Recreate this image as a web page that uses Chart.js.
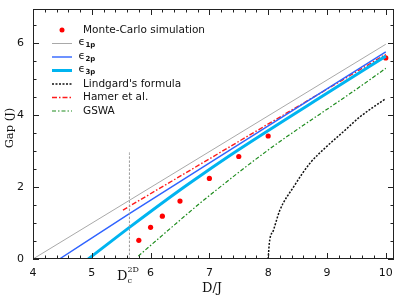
<!DOCTYPE html>
<html><head><meta charset="utf-8">
<script src="https://cdn.jsdelivr.net/npm/chart.js@4/dist/chart.umd.min.js"></script>
<style>html,body{margin:0;padding:0;background:#fff;}canvas{display:block;}</style>
</head><body>
<canvas id="c" width="401" height="299"></canvas>
<script>
// ---- data ----
const xTicks = [4, 5, 6, 7, 8, 9, 10];
const yTicks = [0, 2, 4, 6];

const mcD   = [5.8, 6.0, 6.2, 6.5, 7.0, 7.5, 8.0, 10.0];
const mcGap = [0.52, 0.88, 1.19, 1.61, 2.24, 2.85, 3.42, 5.59];

const e1D   = [4.0, 10.0];
const e1Gap = [0.0, 5.97];

const e2D   = [4.45, 5.64, 7.32, 10.0];
const e2Gap = [0.0, 1.26, 3.0, 5.76];

const e3D   = [4.94, 5.64, 6.5, 6.84, 7.49, 9.08, 10.0];
const e3Gap = [0.0, 0.88, 1.92, 2.31, 3.03, 4.69, 5.64];

const linD   = [8.0, 8.02, 8.09, 8.2, 8.43, 8.71, 8.99, 9.28, 9.56, 10.0];
const linGap = [0.0, 0.45, 0.8, 1.36, 2.0, 2.66, 3.12, 3.54, 3.95, 4.46];

const hamD   = [5.53, 10.0];
const hamGap = [1.36, 5.69];

const gswD   = [5.79, 6.5, 6.84, 8.0, 9.5, 10.0];
const gswGap = [0.08, 1.08, 1.55, 3.03, 4.72, 5.30];

const dcD   = [5.64, 5.64];
const dcGap = [0.0, 3.0];

const legendLabels = ['Monte-Carlo simulation', ['\u03f5', '1p'], ['\u03f5', '2p'], ['\u03f5', '3p'],
  "Lindgard's formula", 'Hamer et al.', 'GSWA'];

const pts = (xs, ys) => xs.map((x, i) => ({x, y: ys[i]}));

const styles = {
  e1:  {color: '#a9a9a9', width: 1,   dash: []},
  e2:  {color: '#2f63ff', width: 1.4, dash: []},
  e3:  {color: '#00b4f0', width: 3,   dash: []},
  lin: {color: '#111111', width: 1.5, dash: [2, 1.5]},
  ham: {color: '#ff1a1a', width: 1.4, dash: [5, 2, 1.5, 2]},
  gsw: {color: '#1e8c1e', width: 1.2, dash: [4, 2, 1.5, 2]}
};

function lineDs(label, xs, ys, st, extra) {
  return Object.assign({
    label, data: pts(xs, ys), showLine: true, pointRadius: 0,
    borderColor: st.color, borderWidth: st.width, borderDash: st.dash,
    fill: false, cubicInterpolationMode: 'monotone'
  }, extra || {});
}

const deco = {
  id: 'deco',
  afterDatasetsDraw(chart) {
    const {ctx, chartArea: a, scales: {x, y}} = chart;
    ctx.save();
    // frame
    ctx.strokeStyle = '#222';
    ctx.lineWidth = 1;
    ctx.strokeRect(Math.round(a.left) + 0.5, Math.round(a.top) + 0.5,
      Math.round(a.right - a.left) - 1, Math.round(a.bottom - a.top) - 1);
    // inward ticks
    ctx.beginPath();
    for (let i = 0; i <= 30; i++) {
      const v = 4 + i * 0.2;
      const L = (i % 5 === 0) ? 6 : 3.5;
      const px = Math.round(x.getPixelForValue(v)) + 0.5;
      ctx.moveTo(px, a.bottom); ctx.lineTo(px, a.bottom - L);
      ctx.moveTo(px, a.top);    ctx.lineTo(px, a.top + L);
    }
    for (let i = 0; i <= 13; i++) {
      const v = i * 0.5;
      const L = (i % 4 === 0) ? 6 : 3.5;
      const py = Math.round(y.getPixelForValue(v)) + 0.5;
      ctx.moveTo(a.left, py);  ctx.lineTo(a.left + L, py);
      ctx.moveTo(a.right, py); ctx.lineTo(a.right - L, py);
    }
    ctx.stroke();

    // axis titles
    ctx.fillStyle = '#111';
    ctx.font = '13px "DejaVu Serif"';
    ctx.textAlign = 'center';
    ctx.textBaseline = 'alphabetic';
    ctx.fillText('D/J', 212, 292);
    ctx.save();
    ctx.translate(13, 128);
    ctx.rotate(-Math.PI / 2);
    ctx.font = '11.5px "DejaVu Serif"';
    ctx.fillText('Gap (J)', 0, 0);
    ctx.restore();

    // D_c^{2D}
    ctx.textAlign = 'left';
    ctx.font = '13px "DejaVu Serif"';
    ctx.fillText('D', 117, 280);
    ctx.font = '8px "DejaVu Serif"';
    ctx.fillText('2D', 127.5, 272);
    ctx.fillText('c', 127.5, 283);

    // legend
    const rowsY = [30, 43.5, 57, 70.5, 84, 97.5, 111];
    const keys = [null, 'e1', 'e2', 'e3', 'lin', 'ham', 'gsw'];
    ctx.textBaseline = 'middle';
    rowsY.forEach((ry, i) => {
      if (i === 0) {
        ctx.fillStyle = '#ff0000';
        ctx.beginPath(); ctx.arc(62, ry, 2.5, 0, Math.PI * 2); ctx.fill();
      } else {
        const st = styles[keys[i]];
        ctx.strokeStyle = st.color;
        ctx.lineWidth = st.width;
        ctx.setLineDash(st.dash);
        ctx.beginPath(); ctx.moveTo(52, ry); ctx.lineTo(72, ry); ctx.stroke();
        ctx.setLineDash([]);
      }
      ctx.fillStyle = '#111';
      const lab = legendLabels[i];
      if (Array.isArray(lab)) {
        ctx.font = '10.5px "DejaVu Sans"';
        ctx.fillText(lab[0], 78.5, ry - 1);
        const w = ctx.measureText(lab[0]).width;
        ctx.font = 'bold 7px "DejaVu Sans"';
        ctx.fillText(lab[1], 78.5 + w + 0.5, ry + 2);
      } else {
        ctx.font = '10.5px "DejaVu Sans"';
        ctx.fillText(lab, 83, ry);
      }
    });
    ctx.restore();
  }
};

new Chart(document.getElementById('c'), {
  type: 'scatter',
  data: {
    datasets: [
      lineDs('Dc', dcD, dcGap, {color: '#9a9a9a', width: 1, dash: [2.5, 1.5]}),
      lineDs('e1', e1D, e1Gap, styles.e1),
      lineDs('e2', e2D, e2Gap, styles.e2),
      lineDs('e3', e3D, e3Gap, styles.e3),
      lineDs('lin', linD, linGap, styles.lin),
      lineDs('gsw', gswD, gswGap, styles.gsw),
      lineDs('ham', hamD, hamGap, styles.ham),
      {label: 'MC', data: pts(mcD, mcGap), showLine: false, pointRadius: 2.6,
       pointBackgroundColor: '#ff0000', pointBorderWidth: 0, borderColor: '#ff0000'}
    ]
  },
  options: {
    responsive: false, animation: false, events: [],
    layout: {padding: {left: 0, top: 9, right: 7, bottom: 0}},
    plugins: {legend: {display: false}, tooltip: {enabled: false}},
    scales: {
      x: {
        type: 'linear', min: 4, max: 10.14,
        afterBuildTicks: s => { s.ticks = xTicks.map(v => ({value: v})); },
        afterFit: s => { s.height = 40; s.paddingLeft = 0; s.paddingRight = 0; },
        grid: {display: false, drawTicks: false},
        border: {display: false},
        ticks: {color: '#111', font: {family: 'DejaVu Sans', size: 11}, padding: 8, maxRotation: 0,
                callback: v => String(v)}
      },
      y: {
        type: 'linear', min: 0, max: 6.95,
        afterBuildTicks: s => { s.ticks = yTicks.map(v => ({value: v})); },
        afterFit: s => { s.width = 33; s.paddingTop = 0; s.paddingBottom = 0; },
        grid: {display: false, drawTicks: false},
        border: {display: false},
        ticks: {color: '#111', font: {family: 'DejaVu Sans', size: 11}, padding: 9,
                callback: v => String(v)}
      }
    }
  },
  plugins: [deco]
});
</script>
</body></html>
